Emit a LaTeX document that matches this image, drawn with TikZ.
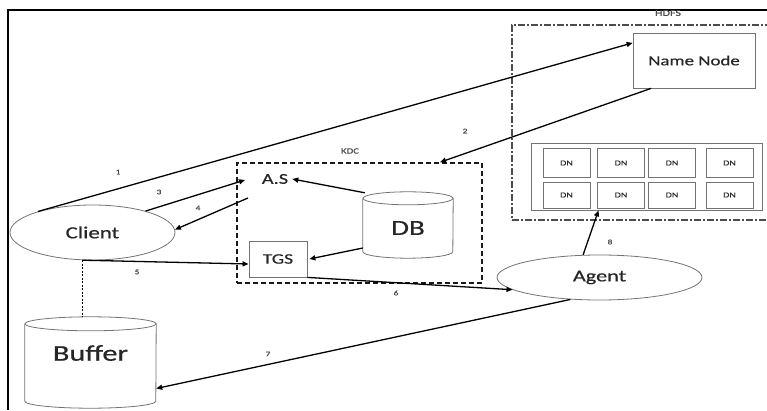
\documentclass[tikz,border=0pt]{standalone}
\usepackage{fontspec}
\setmainfont[FakeStretch=1.35,FakeBold=0.6]{Carlito}
\usetikzlibrary{shapes.geometric,arrows.meta}
\begin{document}
\begin{tikzpicture}[x=1pt,y=1pt,
  shapeline/.style={draw=black!55,line width=0.8pt},
  boxnode/.style={shapeline,rectangle,inner sep=0pt,text=black!85},
  ellnode/.style={shapeline,ellipse,inner sep=0pt,text=black!85},
  conn/.style={draw=black,line width=1.3pt,-{Triangle[length=6pt,width=5pt]}},
  numlabel/.style={font=\fontsize{7}{8}\selectfont,text=black!70,inner sep=0pt},
  dnbox/.style={boxnode,minimum width=47pt,minimum height=26pt,font=\fontsize{7.5}{9}\selectfont},
  kdcbox/.style={draw=black!90,line width=1.5pt,dash pattern=on 5pt off 3pt,rectangle,inner sep=0pt},
  hdfsbox/.style={draw=black!70,line width=1.5pt,dash pattern=on 7pt off 2pt on 2pt off 2pt,rectangle,inner sep=0pt}
]
\useasboundingbox (0,0) rectangle (767,410);
% frame
\draw[line width=2.5pt] (8,0) -- (8,400) -- (770,400);

% HDFS
\node[hdfsbox,minimum width=260pt,minimum height=195pt] (hdfs) at (642,287.5) {};
\node[font=\fontsize{9}{10}\selectfont,text=black!70,inner sep=0pt] (hdfslabel) at (668,397) {HDFS};
\node[boxnode,minimum width=122pt,minimum height=55pt,font=\fontsize{14}{16}\selectfont] (namenode) at (694,349.5) {Name Node};
\node[boxnode,minimum width=231pt,minimum height=67pt] (dncont) at (646.5,233.5) {};
\node[dnbox,minimum height=29pt] (dn1) at (566.5,247) {DN};
\node[dnbox,minimum height=29pt] (dn2) at (621,247) {DN};
\node[dnbox,minimum height=29pt] (dn3) at (672,247) {DN};
\node[dnbox,minimum height=29pt] (dn4) at (729.5,247) {DN};
\node[dnbox] (dn5) at (566.5,215) {DN};
\node[dnbox] (dn6) at (621,215) {DN};
\node[dnbox] (dn7) at (672,215) {DN};
\node[dnbox] (dn8) at (729.5,215) {DN};

% KDC
\node[kdcbox,minimum width=245pt,minimum height=120pt] (kdc) at (359.5,187) {};
\node[font=\fontsize{8}{9}\selectfont,text=black!70,inner sep=0pt] (kdclabel) at (350,259) {KDC};
\node[font=\fontsize{15}{17}\selectfont,text=black!85,inner sep=0pt] (as) at (275,231) {A.S};
\node[boxnode,minimum width=58pt,minimum height=36pt,font=\fontsize{14.5}{16}\selectfont] (tgs) at (278,151) {TGS};
% DB cylinder
\node[inner sep=0pt,minimum width=90pt,minimum height=66pt] (db) at (408,185) {};
\draw[shapeline,fill=white] ([yshift=-6.5pt]db.north) ellipse[x radius=45pt,y radius=6.5pt];
\draw[shapeline] ([yshift=-6.5pt]db.north west) -- ([yshift=6.5pt]db.south west)
  arc[start angle=180,end angle=360,x radius=45pt,y radius=6.5pt] -- ([yshift=-6.5pt]db.north east);
\node[font=\fontsize{21.5}{24}\selectfont,text=black!85,inner sep=0pt] (dblabel) at (408,182) {DB};

% Client
\node[ellnode,minimum width=165pt,minimum height=55pt,font=\fontsize{17}{19}\selectfont] (client) at (92.5,177.5) {Client};
% Agent
\node[ellnode,minimum width=205pt,minimum height=45pt,font=\fontsize{16.5}{18}\selectfont] (agent) at (599.5,132.5) {Agent};

% Buffer cylinder
\node[inner sep=0pt,minimum width=131pt,minimum height=91pt] (buffer) at (90.5,47.5) {};
\draw[shapeline] ([yshift=-7pt]buffer.north) ellipse[x radius=65.5pt,y radius=7pt];
\draw[shapeline] ([yshift=-7pt]buffer.north west) -- ([yshift=7pt]buffer.south west)
  arc[start angle=180,end angle=360,x radius=65.5pt,y radius=7pt] -- ([yshift=-7pt]buffer.north east);
\node[font=\fontsize{22.5}{25}\selectfont,text=black!85,inner sep=0pt] (bufferlabel) at (90.5,57) {Buffer};

% helper coordinates
\coordinate (a3) at (245,230);
\coordinate (a4) at (248,212);

% connectors
\draw[conn] (client.159) -- (namenode.164);
\draw[conn] (namenode.213) -- ([xshift=80.5pt]kdc.north);
\draw[conn] (client.22) -- (a3);
\draw[conn] (a4) -- (client.2);
\draw[conn] (client.250) -- ([yshift=-5pt]tgs.west);
\draw[black,line width=1.3pt,dash pattern=on 2pt off 1.5pt] (client.250) -- (buffer.north -| client.250);
\draw[conn] (tgs.south east) -- (agent.188);
\draw[conn] (agent.217) -- ([yshift=-26pt]buffer.east);
\draw[conn] (agent.126) -- ([xshift=-48pt]dncont.south);
\draw[conn] ([shift={(2pt,-1pt)}]db.north west) -- ([xshift=4pt]as.east);
\draw[conn] ([yshift=-23pt]db.west) -- ([xshift=2pt]tgs.east);

% labels
\node[numlabel] (l1) at (118,238) {1};
\node[numlabel] (l2) at (465,279) {2};
\node[numlabel] (l3) at (159,218) {3};
\node[numlabel] (l4) at (198,202) {4};
\node[numlabel] (l5) at (137,138) {5};
\node[numlabel] (l6) at (396,117) {6};
\node[numlabel] (l7) at (268,56) {7};
\node[numlabel] (l8) at (610,168) {8};
\end{tikzpicture}
\end{document}
